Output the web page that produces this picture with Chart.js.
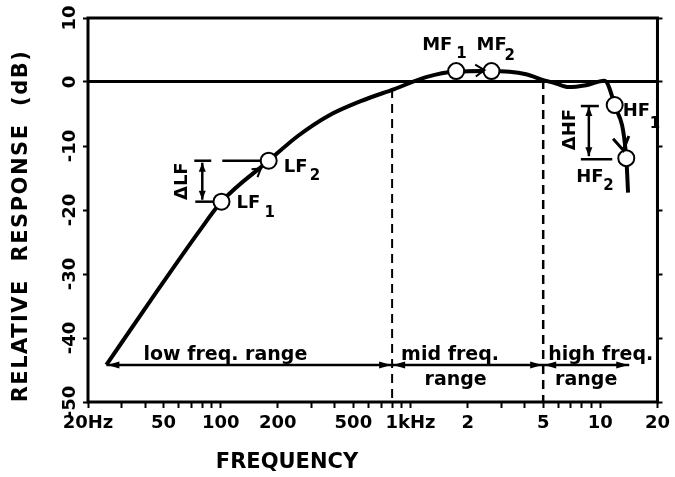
<!DOCTYPE html>
<html>
<head>
<meta charset="utf-8">
<script src="https://cdn.jsdelivr.net/npm/chart.js@4.4.1/dist/chart.umd.min.js"></script>
<style>
  html, body { margin: 0; padding: 0; background: #fff; }
</style>
</head>
<body>
<canvas id="chart" width="675" height="477"></canvas>
<script>
// response curve (Hz, dB)
const freqs = [25, 42.6, 78, 101, 179, 256, 368, 546, 822, 1220, 1700, 2650, 4060, 5000, 5800, 6800, 8400, 10500, 11900, 13700, 14000];
const response = [-44.2, -34.2, -23.1, -18.7, -12.3, -8.4, -5.3, -3.0, -1.1, 0.8, 1.6, 1.7, 1.2, 0.3, -0.2, -0.8, -0.5, 0.2, -3.6, -11.9, -17.3];

// measuring points
const markerNames = ['LF', 'LF', 'MF', 'MF', 'HF', 'HF'];
const markerSubs = ['1', '2', '1', '2', '1', '2'];
const markerFreqs = [101, 179, 1740, 2670, 11900, 13700];
const markerDb = [-18.7, -12.3, 1.7, 1.7, -3.6, -11.9];

// frequency bands
const bandEdges = [25, 800, 5000, 14200];
const bandDb = -44.2;
const bandTop = ['low freq. range', 'mid freq.', 'high freq.'];
const bandBottom = ['', 'range', 'range'];
const dividerTop = [-1.1, 0.3];

// axis ticks
const xTickValues = [20, 50, 100, 200, 500, 1000, 2000, 5000, 10000, 20000];
const xTickLabels = ['20Hz', '50', '100', '200', '500', '1kHz', '2', '5', '10', '20'];
const yTickValues = [10, 0, -10, -20, -30, -40, -50];
const yTickLabels = ['10', '0', '-10', '-20', '-30', '-40', '-50'];

const FONT = '"DejaVu Sans", sans-serif';

// minor tick positions 20, 30 ... 90, 100, 200 ...
function logTicks(min, max) {
  const out = [];
  for (let dec = 10; dec <= max; dec *= 10) {
    for (let m = 1; m < 10; m++) {
      const v = m * dec;
      if (v >= min && v <= max) out.push(v);
    }
  }
  return out;
}

function head(ctx, x0, y0, x1, y1, len, w) {
  const a = Math.atan2(y1 - y0, x1 - x0);
  ctx.beginPath();
  ctx.moveTo(x1, y1);
  ctx.lineTo(x1 - len * Math.cos(a) + w * Math.sin(a), y1 - len * Math.sin(a) - w * Math.cos(a));
  ctx.lineTo(x1 - len * Math.cos(a) - w * Math.sin(a), y1 - len * Math.sin(a) + w * Math.cos(a));
  ctx.closePath();
  ctx.fill();
}

function vee(ctx, x0, y0, x1, y1, len, w) {
  const a = Math.atan2(y1 - y0, x1 - x0);
  ctx.beginPath();
  ctx.moveTo(x1 - len * Math.cos(a) + w * Math.sin(a), y1 - len * Math.sin(a) - w * Math.cos(a));
  ctx.lineTo(x1, y1);
  ctx.lineTo(x1 - len * Math.cos(a) - w * Math.sin(a), y1 - len * Math.sin(a) + w * Math.cos(a));
  ctx.stroke();
}

function line(ctx, x0, y0, x1, y1) {
  ctx.beginPath();
  ctx.moveTo(x0, y0);
  ctx.lineTo(x1, y1);
  ctx.stroke();
}

function vtext(ctx, t, x, y) {
  ctx.save();
  ctx.translate(x, y);
  ctx.rotate(-Math.PI / 2);
  ctx.textAlign = 'center';
  ctx.textBaseline = 'middle';
  ctx.fillText(t, 0, 0);
  ctx.restore();
}

const annotate = {
  id: 'annotate',
  afterDatasetsDraw(chart) {
    const { ctx, chartArea: a, scales: { x, y } } = chart;
    const m = markerFreqs.map((f, i) => ({ x: x.getPixelForValue(f), y: y.getPixelForValue(markerDb[i]) }));
    ctx.save();
    ctx.fillStyle = '#000';
    ctx.strokeStyle = '#000';
    ctx.lineCap = 'butt';

    // frame
    ctx.lineWidth = 3;
    ctx.strokeRect(a.left, a.top, a.right - a.left, a.bottom - a.top);

    // band arrows + labels
    const by = y.getPixelForValue(bandDb);
    ctx.font = 'bold 19px ' + FONT;
    ctx.textBaseline = 'alphabetic';
    const topDx = [37, 9, 5];
    for (let i = 0; i < bandEdges.length - 1; i++) {
      const x1 = x.getPixelForValue(bandEdges[i]);
      const x2 = x.getPixelForValue(bandEdges[i + 1]);
      head(ctx, x1 + 12, by, x1 + 1, by, 12, 3.5);
      head(ctx, x2 - 12, by, x2 - 1, by, 12, 3.5);
      ctx.textAlign = 'left';
      ctx.fillText(bandTop[i], x1 + topDx[i], by - 5);
      if (bandBottom[i]) {
        ctx.textAlign = 'center';
        ctx.fillText(bandBottom[i], (x1 + x2) / 2 - (i === 1 ? 12 : 0), by + 20);
      }
    }

    // delta LF bracket
    ctx.lineWidth = 2.5;
    let vx = x.getPixelForValue(80);
    line(ctx, vx, m[1].y + 2, vx, m[0].y - 2);
    head(ctx, vx, m[1].y + 14, vx, m[1].y + 2, 9, 3.5);
    head(ctx, vx, m[0].y - 14, vx, m[0].y - 2, 9, 3.5);
    line(ctx, vx - 8, m[1].y, vx + 9, m[1].y);
    line(ctx, vx + 20, m[1].y, m[1].x - 8, m[1].y);
    line(ctx, vx - 7, m[0].y, m[0].x - 8, m[0].y);
    ctx.font = 'bold 18px ' + FONT;
    vtext(ctx, '\u0394LF', vx - 20, (m[0].y + m[1].y) / 2);

    // delta HF bracket
    vx = x.getPixelForValue(8700);
    line(ctx, vx, m[4].y + 2, vx, m[5].y - 2);
    head(ctx, vx, m[4].y + 14, vx, m[4].y + 2, 9, 3.5);
    head(ctx, vx, m[5].y - 14, vx, m[5].y - 2, 9, 3.5);
    line(ctx, vx - 8, m[4].y + 1, vx + 10, m[4].y + 1);
    line(ctx, vx - 8, m[5].y + 1, m[5].x - 14, m[5].y + 1);
    vtext(ctx, '\u0394HF', vx - 19, (m[4].y + m[5].y) / 2 - 2);

    // small arrows between paired points
    ctx.lineWidth = 2;
    const p0 = { x: x.getPixelForValue(128), y: y.getPixelForValue(-15.8) };
    const p1 = { x: x.getPixelForValue(163), y: y.getPixelForValue(-13.5) };
    line(ctx, p0.x, p0.y, p1.x, p1.y);
    vee(ctx, p0.x, p0.y, p1.x, p1.y, 8, 5);
    line(ctx, m[2].x + 8, m[2].y, m[3].x - 7, m[3].y - 1);
    vee(ctx, m[2].x + 8, m[2].y, m[3].x - 7, m[3].y - 1, 9, 6);
    ctx.lineWidth = 3;
    vee(ctx, m[4].x + 2, m[4].y + 9, m[5].x - 3, m[5].y - 8, 13, 8);

    // point labels
    const lab = [
      [15, 6, 43, 15], [15, 11, 41, 19], [-34, -21, 0, -13],
      [-15, -21, 13, -11], [8, 11, 35, 23], [-50, 24, -23, 32]
    ];
    m.forEach((p, i) => {
      const [dx, dy, sx, sy] = lab[i];
      ctx.textAlign = 'left';
      ctx.font = 'bold 18px ' + FONT;
      ctx.fillText(markerNames[i], p.x + dx, p.y + dy);
      ctx.font = 'bold 15px ' + FONT;
      ctx.fillText(markerSubs[i], p.x + sx, p.y + sy);
    });

    // y tick labels (rotated)
    ctx.font = 'bold 18px ' + FONT;
    yTickValues.forEach((v, i) => vtext(ctx, yTickLabels[i], a.left - 18, y.getPixelForValue(v)));

    // axis titles
    ctx.font = 'bold 21px ' + FONT;
    ctx.letterSpacing = '1.5px';
    vtext(ctx, 'RELATIVE  RESPONSE  (dB)', 22, 226);
    ctx.letterSpacing = '0px';
    ctx.textAlign = 'center';
    ctx.textBaseline = 'alphabetic';
    ctx.font = 'bold 21px ' + FONT;
    ctx.fillText('FREQUENCY', 287, 468);
    ctx.restore();
  }
};

const curve = freqs.map((f, i) => ({ x: f, y: response[i] }));
const markers = markerFreqs.map((f, i) => ({ x: f, y: markerDb[i] }));

new Chart(document.getElementById('chart'), {
  type: 'line',
  data: {
    datasets: [
      {
        data: markers,
        showLine: false,
        pointRadius: 8,
        pointBorderWidth: 2,
        pointBackgroundColor: '#fff',
        pointBorderColor: '#000',
        order: 0
      },
      {
        data: curve,
        borderColor: '#000',
        borderWidth: 4,
        pointRadius: 0,
        cubicInterpolationMode: 'monotone',
        order: 5
      },
      {
        data: [{ x: bandEdges[0], y: bandDb }, { x: bandEdges[3], y: bandDb }],
        borderColor: '#000',
        borderWidth: 2.5,
        pointRadius: 0,
        order: 4
      },
      {
        data: [{ x: bandEdges[1], y: dividerTop[0] }, { x: bandEdges[1], y: -50 }],
        borderColor: '#000',
        borderWidth: 2,
        borderDash: [9, 6],
        pointRadius: 0,
        order: 3
      },
      {
        data: [{ x: bandEdges[2], y: dividerTop[1] }, { x: bandEdges[2], y: -50 }],
        borderColor: '#000',
        borderWidth: 2.5,
        borderDash: [9, 6],
        pointRadius: 0,
        order: 3
      }
    ]
  },
  options: {
    responsive: false,
    animation: false,
    devicePixelRatio: 1,
    layout: { padding: { top: 18, left: 0, right: 0, bottom: 0 } },
    plugins: { legend: { display: false }, tooltip: { enabled: false } },
    scales: {
      x: {
        type: 'logarithmic',
        min: 20,
        max: 20000,
        afterBuildTicks: (s) => { s.ticks = logTicks(20, 20000).map(v => ({ value: v })); },
        afterFit: (s) => { s.height = 75; },
        border: { display: false },
        grid: { drawOnChartArea: false, tickLength: 6, tickWidth: 2, tickColor: '#000' },
        ticks: {
          autoSkip: false,
          maxRotation: 0,
          padding: 5,
          color: '#000',
          font: { family: FONT, size: 18, weight: 'bold' },
          callback: (v) => {
            const i = xTickValues.indexOf(v);
            return i >= 0 ? xTickLabels[i] : '';
          }
        }
      },
      y: {
        min: -50,
        max: 10,
        afterFit: (s) => { s.width = 88; },
        border: { display: false },
        grid: {
          color: (c) => (c.tick && c.tick.value === 0 ? '#000' : 'rgba(0,0,0,0)'),
          lineWidth: (c) => (c.tick && c.tick.value === 0 ? 3 : 1),
          tickLength: 5,
          tickWidth: 2,
          tickColor: '#000'
        },
        ticks: { stepSize: 10, display: false }
      },
      y2: {
        type: 'linear',
        position: 'right',
        min: -50,
        max: 10,
        afterFit: (s) => { s.width = 12; },
        border: { display: false },
        grid: { drawOnChartArea: false, tickLength: 5, tickWidth: 2, tickColor: '#000' },
        ticks: { stepSize: 10, display: false }
      }
    }
  },
  plugins: [annotate]
});
</script>
</body>
</html>
